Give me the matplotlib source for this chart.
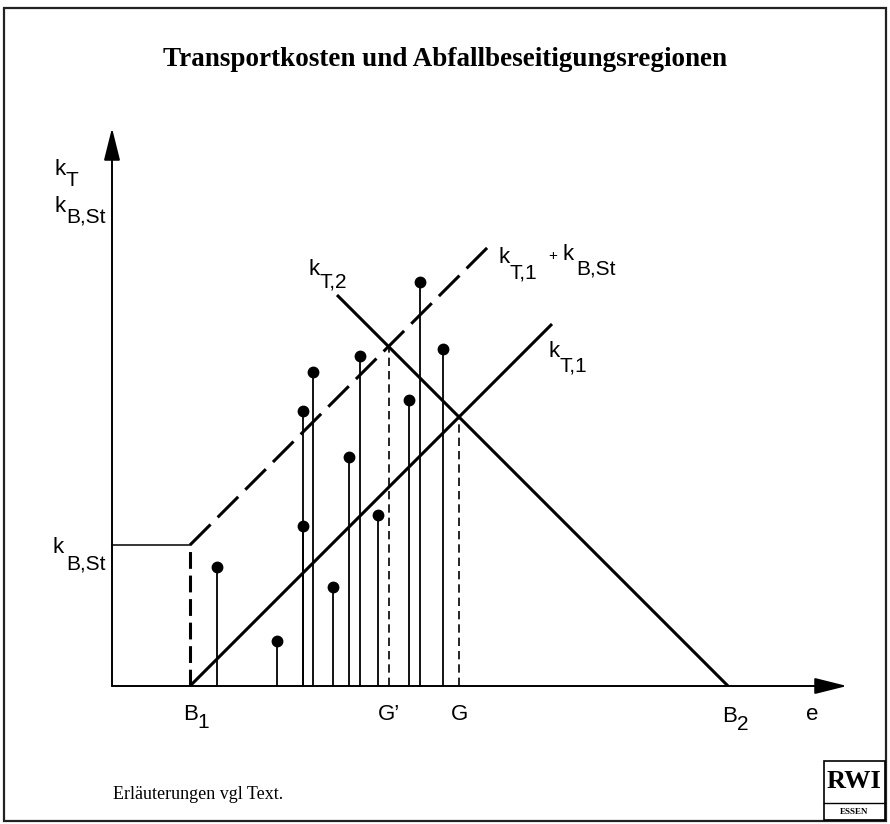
"""Transportkosten und Abfallbeseitigungsregionen (Schema, RWI Essen)."""

import matplotlib
matplotlib.use("Agg")
import matplotlib.pyplot as plt
from matplotlib.patches import Rectangle

# --- Daten (willkürliche Einheiten, Ursprung im Achsenkreuz) ---
B1 = 78          # Standort Beseitigungsanlage 1
B2 = 616         # Standort Beseitigungsanlage 2
K_BST = 141      # Beseitigungskosten k_B,St
KT1_END = 440    # Ende der Linie k_T,1
KT1B_END = 376   # Ende der Linie k_T,1 + k_B,St
KT2_START = 225  # Beginn der Linie k_T,2

# Einzelne Abfallmengen (Stäbe mit Punkt)
stem_x = [105, 165, 191, 191, 201, 221, 237, 248, 266, 297, 308, 331]
stem_y = [119, 45, 275, 160, 314, 99, 229, 330, 171, 286, 404, 337]

X_MAX = 735
Y_MAX = 558

TITLE = "Transportkosten und Abfallbeseitigungsregionen"
FOOTER = "Erläuterungen vgl Text."

SANS = ["Liberation Sans Narrow", "Liberation Sans", "DejaVu Sans"]
SERIF = ["Liberation Serif", "DejaVu Serif"]


def label(ax, x, y, main, sub, dx=11, dy=-12, size=15):
    """Haupttext mit tief gestelltem Index gleicher Größe."""
    ax.text(x, y, main, family=SANS, fontsize=size + 1, va="baseline", ha="left")
    ax.text(x + dx, y + dy, sub, family=SANS, fontsize=size, va="baseline", ha="left")


def main() -> None:
    fig = plt.figure(figsize=(8.9, 8.24), dpi=100)
    # Achsen über die ganze Fläche, Ursprung bei Pixel (112, 686)
    ax = fig.add_axes([0, 0, 1, 1])
    ax.set_xlim(-112, 778)
    ax.set_ylim(-138, 686)
    ax.axis("off")

    # Rahmen
    fig.patches.append(Rectangle((0.004, 0.004), 0.991, 0.986, transform=fig.transFigure,
                                 fill=False, lw=1.6, ec="#222222"))

    # Koordinatenachsen mit Pfeilen
    arrow = dict(arrowstyle="-|>,head_length=1.0,head_width=0.25", lw=1.4,
                 color="black", shrinkA=0, shrinkB=0, mutation_scale=20)
    ax.annotate("", xy=(0, Y_MAX), xytext=(0, 0), arrowprops=arrow)
    ax.annotate("", xy=(X_MAX, 0), xytext=(0, 0), arrowprops=arrow)

    # k_B,St Niveau und gestrichelte Senkrechte bei B1
    ax.plot([0, B1], [K_BST, K_BST], color="black", lw=1.1)
    ax.plot([B1, B1], [0, K_BST], color="black", lw=2.2, dashes=(5.5, 2.2))

    # Kostenlinien
    ax.plot([B1, KT1_END], [0, KT1_END - B1], color="black", lw=2.2, solid_capstyle="butt")
    ax.plot([B1, KT1B_END], [K_BST, K_BST + KT1B_END - B1], color="black", lw=2.2,
            dashes=(9.5, 3.3))
    ax.plot([KT2_START, B2], [B2 - KT2_START, 0], color="black", lw=2.2, solid_capstyle="butt")

    # Grenzen G' und G
    g_strich = (B1 + B2 - K_BST) / 2
    g = (B1 + B2) / 2
    ax.plot([g_strich, g_strich], [0, B2 - g_strich], color="black", lw=1.2, dashes=(5, 3))
    ax.plot([g, g], [0, B2 - g], color="black", lw=1.2, dashes=(5, 3))

    # Stäbe mit Punkten
    for x, y in zip(stem_x, stem_y):
        ax.plot([x, x], [0, y], color="black", lw=1.3)
    ax.plot(stem_x, stem_y, "o", color="black", ms=7.5)

    # Beschriftungen der Ordinate
    label(ax, -57, 511, "k", "T", dy=-11)
    label(ax, -57, 474, "k", "B,St", dy=-10)
    label(ax, -59, 133, "k", "B,St", dx=13, dy=-16)

    # Beschriftungen der Abszisse
    label(ax, 71, -34, "B", "1", dx=14, dy=-8)
    ax.text(g_strich, -34, "G’", family=SANS, fontsize=16, ha="center", va="baseline")
    ax.text(g, -34, "G", family=SANS, fontsize=16, ha="center", va="baseline")
    label(ax, 610, -36, "B", "2", dx=15, dy=-8)
    ax.text(700, -34, "e", family=SANS, fontsize=16, ha="center", va="baseline")

    # Beschriftungen der Kurven
    label(ax, 196, 411, "k", "T,2")
    label(ax, 386, 423, "k", "T,1", dy=-15)
    ax.text(436, 426, "+", family=SANS, fontsize=11, va="baseline")
    label(ax, 451, 426, "k", "B,St", dx=13, dy=-14)
    label(ax, 436, 329, "k", "T,1", dy=-14)

    # Titel und Fußzeile
    fig.text(0.5, 0.928, TITLE, ha="center", va="center", family=SERIF,
             fontsize=19.5, fontweight="bold")
    fig.text(0.127, 0.036, FOOTER, ha="left", va="center", family=SERIF, fontsize=13)

    # RWI-Logo
    fig.patches.append(Rectangle((0.926, 0.005), 0.068, 0.072, transform=fig.transFigure,
                                 fill=False, lw=1.2, ec="black"))
    fig.lines.append(plt.Line2D([0.926, 0.994], [0.026, 0.026], transform=fig.transFigure,
                                color="black", lw=1.0))
    fig.text(0.960, 0.052, "RWI", ha="center", va="center", family=SERIF,
             fontsize=19, fontweight="bold")
    fig.text(0.960, 0.015, "ESSEN", ha="center", va="center", family=SERIF,
             fontsize=6.5, fontweight="bold")

    fig.savefig("out.png", dpi=100)
    plt.close(fig)


if __name__ == "__main__":
    main()
